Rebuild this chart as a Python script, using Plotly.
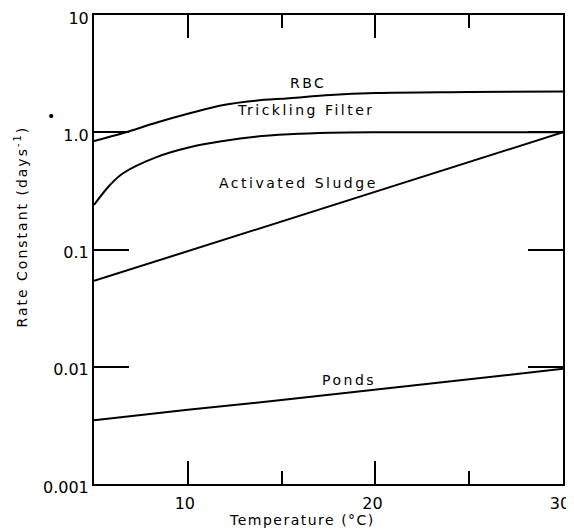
import plotly.graph_objects as go

# Data
temp_rbc = [5, 6.6, 8.35, 10.1, 11.9, 13.6, 15.4, 17.6, 20, 25, 30]
rbc = [0.84, 0.99, 1.21, 1.45, 1.71, 1.86, 1.95, 2.08, 2.16, 2.2, 2.23]

temp_tf = [5, 5.85, 6.55, 8.3, 10.1, 11.9, 13.6, 15.4, 17.6, 20, 25, 30]
trickling = [0.24, 0.355, 0.447, 0.611, 0.744, 0.842, 0.916, 0.96, 0.99, 1.0, 1.0, 1.0]

temp_as = [5, 10, 15, 20, 25, 30]
activated = [0.054, 0.097, 0.175, 0.31, 0.56, 1.0]

temp_ponds = [5, 10, 15, 20, 25, 30]
ponds = [0.0035, 0.0043, 0.0052, 0.0064, 0.0078, 0.0096]

x_ticks = [10, 20, 30]
x_ticklabels = ["10", "20", "30"]
y_ticks = [0.001, 0.01, 0.1, 1, 10]
y_ticklabels = ["0.001", "0.01", "0.1", "1.0", "10"]

labels = ["RBC", "Trickling Filter", "Activated Sludge", "Ponds"]
label_x = [16.4, 16.3, 15.9, 18.6]
label_logy = [0.42, 0.19, -0.433, -2.113]

x_title = "Temperature (°C)"
y_title = "Rate Constant (days<sup>-1</sup>)"

FONT = "DejaVu Sans"


def spaced(t, px):
    return f'<span style="letter-spacing:{px}px">{t}</span>'


fig = go.Figure()
for xs, ys, shape in [(temp_rbc, rbc, "spline"), (temp_tf, trickling, "spline"),
                      (temp_as, activated, "linear"), (temp_ponds, ponds, "linear")]:
    fig.add_trace(go.Scatter(x=xs, y=ys, mode="lines", line=dict(color="black", width=2, shape=shape),
                             showlegend=False, hoverinfo="skip"))

for t, lx, ly in zip(labels, label_x, label_logy):
    fig.add_annotation(x=lx, y=ly, xref="x", yref="y", text=spaced(t, 2.5), showarrow=False,
                       xanchor="center", yanchor="middle",
                       font=dict(family=FONT, size=14, color="black"))

# axis titles placed as in the reference (offset from the plot centre)
fig.add_annotation(x=0.4435, y=-0.0768, xref="paper", yref="paper", text=spaced(x_title, 1.5),
                   showarrow=False, xanchor="center", yanchor="middle",
                   font=dict(family=FONT, size=14, color="black"))
fig.add_annotation(x=-0.1557, y=0.549, xref="paper", yref="paper", text=spaced(y_title, 2),
                   textangle=-90, showarrow=False, xanchor="center", yanchor="middle",
                   font=dict(family=FONT, size=14, color="black"))

fig.add_annotation(x=-0.092, y=0.785, xref="paper", yref="paper", text="•", showarrow=False,
                   xanchor="center", yanchor="middle",
                   font=dict(family=FONT, size=14, color="black"))

fig.update_layout(
    width=566, height=523,
    margin=dict(l=86, r=11, t=7, b=47),
    paper_bgcolor="white", plot_bgcolor="white",
    font=dict(family=FONT, color="black"),
    xaxis=dict(
        range=[5, 30], tickvals=x_ticks, ticktext=x_ticklabels,
        ticks="inside", ticklen=23, tickwidth=2, tickcolor="black",
        minor=dict(tickvals=[15, 25], ticks="inside", ticklen=13, tickwidth=2, tickcolor="black"),
        showline=True, linewidth=2, linecolor="black", mirror="ticks",
        showgrid=False, zeroline=False, automargin=False,
        ticklabeloverflow="allow", ticklabelstandoff=4, ticklabelshift=-3,
        tickfont=dict(family=FONT, size=16),
    ),
    yaxis=dict(
        type="log", range=[-3, 1], tickvals=y_ticks, ticktext=y_ticklabels,
        ticks="inside", ticklen=35, tickwidth=1.5, tickcolor="black",
        showline=True, linewidth=2, linecolor="black", mirror="ticks",
        showgrid=False, zeroline=False, automargin=False,
        ticklabeloverflow="allow", ticklabelshift=3,
        tickfont=dict(family=FONT, size=16),
    ),
)

fig.write_html("out.html")
